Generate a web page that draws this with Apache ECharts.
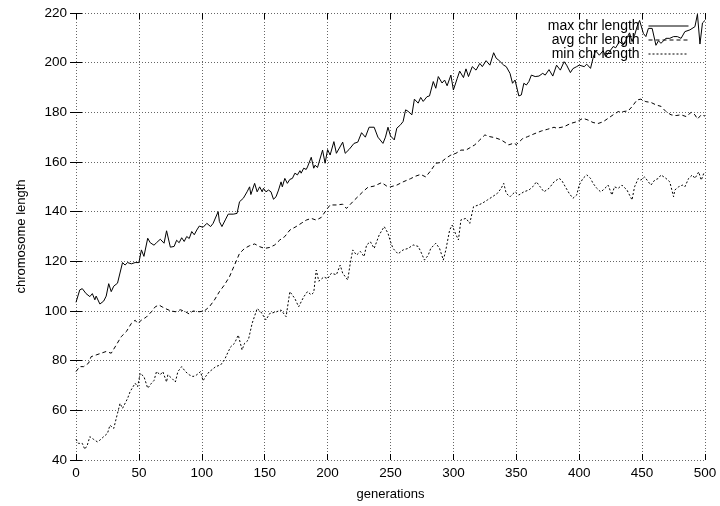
<!DOCTYPE html>
<html>
<head>
<meta charset="utf-8">
<script src="https://cdn.jsdelivr.net/npm/echarts@6/dist/echarts.min.js"></script>
<style>html,body{margin:0;padding:0;background:#fff}#c{width:720px;height:506px}</style>
</head>
<body>
<div id="c"></div>
<script>
var seriesNames = ['max chr length', 'avg chr length', 'min chr length'];
var xTicks = [0, 50, 100, 150, 200, 250, 300, 350, 400, 450, 500];
var yTicks = [40, 60, 80, 100, 120, 140, 160, 180, 200, 220];

var maxGens = [0,3,5,8,11,13,15,16,19,22,24,26,28,30,33,37,39,41,44,47,50,52,54,57,59,62,64,67,70,72,73,75,78,80,82,84,86,88,90,92,94,96,98,101,104,107,109,113,114,116,119,121,125,128,130,133,136,138,139,142,144,146,148,149,151,153,155,157,159,161,163,164,166,168,170,172,174,176,178,179,181,183,184,187,189,190,192,196,198,200,202,205,207,212,214,217,221,224,227,230,233,237,240,244,246,248,250,253,255,258,260,262,264,267,269,272,274,276,279,281,284,286,288,291,293,295,298,300,303,305,308,310,312,315,318,321,323,326,329,332,334,336,340,342,345,347,349,352,354,356,358,360,362,365,368,371,373,376,379,382,385,388,390,393,395,398,400,404,406,409,411,413,416,419,421,424,427,429,432,435,437,440,442,444,446,448,451,453,455,458,461,463,465,469,472,475,478,481,484,488,492,494,496,498,500];
var maxVals = [103.5,108.5,109,107,105.8,107,104.5,106,102.8,104,106,111,107.8,110,111.2,119.5,118.5,119.5,119,119.5,119.5,124.6,122,129.3,127.5,126.5,127.5,128.9,127.3,132.3,131.8,125.7,126,128.5,127.5,129.5,128,130,129.2,132,130.7,132.6,134.2,133.7,135.3,134,135.3,140,136,134,137,139,139,139.3,144,145.4,148,150,146.9,151.4,148,150,148,149.4,148,148.7,148,145,146,148.7,152,150,153.4,151.4,153,153.4,155.5,154.8,156.5,155.5,157.5,157,158,161.9,157.5,158.7,157.8,164.8,159.5,165,162.8,168.2,163.5,168,163.5,165,167.5,168,171.8,170,174,174,170,167.5,170,174,170.5,168.9,173.6,175,176.3,181,180.4,179,185.3,183.7,186,184.4,186.3,186.6,192.4,189.7,194.4,191.8,193,190.7,195,189,193.6,196.6,194,197.5,194.4,198.4,197,199.7,198.4,200.8,199,204,201.8,201,199,198.4,195.7,191.7,193,186.6,187,191.7,191,192.4,195,194.4,194.6,195.7,195,197.2,194.6,199,197,200.4,199,196,197.6,198.4,199,198.4,199.4,197.7,201.8,204.8,203,204.8,202.5,204.4,206.5,206,208.5,207,209,212,208.5,211,214.5,217,211.8,210.5,213.8,213.8,207,208.8,207.8,209.8,209.8,210.5,210.5,209.8,212.5,213.2,214.5,219.5,207.5,216,217];

var avgGens = [0,3,6,10,12,16,20,24,28,32,36,40,44,47,49,52,56,60,63,66,69,71,75,79,83,87,90,93,98,102,106,110,114,118,122,126,130,134,138,142,146,150,154,158,162,166,170,175,179,183,187,191,195,199,202,207,212,215,220,224,228,232,237,243,247,250,255,260,266,270,274,278,282,286,290,294,298,302,306,310,314,317,321,325,329,333,338,344,348,350,355,359,364,370,375,380,382,388,393,398,403,407,411,415,419,423,427,431,435,439,442,446,449,453,457,461,465,469,473,477,481,485,489,492,494,497,500];
var avgVals = [75.6,77.6,77.6,79,81.6,82.3,83,83.7,83,86.3,89.7,91.7,95,96.3,95,96.3,97.6,99.7,101.7,102.4,101.5,101,100.1,99.7,100.5,99.7,98.8,100,99.7,100,101.7,104.4,107.8,110.5,113.8,118.5,123.2,125.2,126.3,127,125.9,125.2,125.6,126.6,128.6,130,132.6,134,135.3,136.6,137.3,136.6,137.7,140.7,142.7,142.7,143,141.3,144,146,148,149.8,150.3,151.7,150.3,150,150.7,152,153.3,154.3,155,154,156.5,159.5,159.8,161.5,162.8,163.5,164.8,164.8,166,166.9,168.9,170.9,170.2,169.8,168.9,166.9,167.6,167,169.4,170.2,171.3,172.5,173.2,174,173.6,174.2,175.5,176.2,177.6,176.9,175.9,175.5,176.2,177.6,179,180.3,180.3,180.6,182.3,185,185.3,184.3,184,183,182.4,180.3,179,178.7,179,178.3,180,179,177.3,179,178.5];

var minGens = [0,2,5,7,9,11,14,17,19,22,25,27,30,33,35,37,41,43,47,49,51,54,57,60,62,64,67,69,72,73,76,79,81,84,87,90,93,96,99,101,103,106,108,111,115,118,121,123,126,129,132,134,137,140,144,147,151,154,159,163,167,170,174,177,181,184,187,189,191,193,194,197,200,203,207,210,212,216,218,220,223,226,229,231,234,237,241,245,248,250,252,256,260,264,268,272,274,277,280,282,286,289,292,294,297,299,301,304,306,310,313,316,320,323,327,331,335,338,340,342,345,349,352,356,360,363,366,369,372,376,380,384,386,389,392,395,398,400,403,406,409,411,414,417,419,423,426,428,431,434,438,442,444,447,449,452,455,457,460,463,465,469,472,475,476,479,482,484,487,490,492,495,497,499,500];
var minVals = [48.3,46.7,46.7,44.3,46,49.4,48.3,47.3,48,49.4,50.7,54,52.7,58.8,62.8,60.8,64.8,67.5,70.9,69.5,74.9,73.6,68.9,70.9,72,75.6,74.3,75.6,71.4,74.3,73,71.4,75.6,77.6,75.6,74.3,73.6,74.3,75.6,71.9,73.6,75.6,76.3,77.6,78.3,80.3,83.6,85.6,87,90.3,84.3,87,88.3,95,101,99.6,96.4,99,99.6,100.4,97.7,107.8,105,101.7,105.7,107.8,106.5,107.5,116.5,112,111.2,113.7,113,115.2,114.6,118.5,115.2,112.5,119.2,124.6,122.5,124,121.9,126.6,127.9,125.2,130.6,134,131.3,127.9,125.2,123,124.6,125.2,126.6,126,124,120.5,122.5,125.2,127.3,125.2,120.5,124.6,132.6,134.6,131.9,128.6,136.7,137.3,135.3,142,142.7,143.4,144.7,146,147.4,149.4,151.4,147.4,146,148,146.7,148,148.7,150,152,150,148,149.4,152,153.4,152.7,150,147.4,145.4,146.7,150.7,153.4,154.8,153.4,151.4,149.4,148,148.7,150.7,146.7,150,149.4,150.7,148.7,144.7,150,153.4,152.7,154,152,150.7,152.7,153.4,154.8,153.4,152,146,148.7,150,150.7,150,153.4,154.8,153.4,156,152.7,155.4,154.8];

function zip(g, v) { return g.map(function (x, i) { return [x, v[i]]; }); }

var FONT = 'Liberation Sans';
var chart = echarts.init(document.getElementById('c'), null, { renderer: 'canvas' });
var gridDot = { color: '#666', width: 1, type: [1, 2] };
chart.setOption({
  animation: false,
  backgroundColor: '#fff',
  textStyle: { fontFamily: FONT, color: '#000' },
  grid: { left: 76, right: 15, top: 13, bottom: 46, containLabel: false },
  legend: {
    orient: 'vertical', align: 'right', right: 26, top: 14,
    itemWidth: 40, itemHeight: 13, itemGap: 0,
    data: seriesNames,
    formatter: function (n) { return n + ' '; },
    itemStyle: { opacity: 0 },
    lineStyle: { width: 1 },
    textStyle: { fontFamily: FONT, fontSize: 14, color: '#000', lineHeight: 14 }
  },
  xAxis: [{
    type: 'value', min: xTicks[0], max: xTicks[xTicks.length - 1], interval: 50, position: 'bottom',
    name: 'generations', nameLocation: 'middle', nameGap: 28,
    nameTextStyle: { fontFamily: FONT, fontSize: 13, color: '#000' },
    axisLine: { show: false },
    axisTick: { show: true, inside: true, length: 6, lineStyle: { color: '#000' } },
    axisLabel: { margin: 6, fontFamily: FONT, fontSize: 13.5, color: '#000' },
    splitLine: { show: true, lineStyle: gridDot }
  }, {
    type: 'value', min: xTicks[0], max: xTicks[xTicks.length - 1], interval: 50, position: 'top',
    axisLine: { show: false },
    axisTick: { show: true, inside: true, length: 6, lineStyle: { color: '#000' } },
    axisLabel: { show: false }, splitLine: { show: false }
  }],
  yAxis: [{
    type: 'value', min: yTicks[0], max: yTicks[yTicks.length - 1], interval: 20, position: 'left',
    name: 'chromosome length', nameLocation: 'middle', nameGap: 48, nameRotate: 90,
    nameTextStyle: { fontFamily: FONT, fontSize: 13, color: '#000' },
    axisLine: { show: false },
    axisTick: { show: true, inside: true, length: 6, lineStyle: { color: '#000' } },
    axisLabel: { margin: 9, fontFamily: FONT, fontSize: 13.5, color: '#000' },
    splitLine: { show: true, lineStyle: gridDot }
  }, {
    type: 'value', min: yTicks[0], max: yTicks[yTicks.length - 1], interval: 20, position: 'right',
    axisLine: { show: false },
    axisTick: { show: true, inside: true, length: 6, lineStyle: { color: '#000' } },
    axisLabel: { show: false }, splitLine: { show: false }
  }],
  series: [{
    name: seriesNames[0], type: 'line', data: zip(maxGens, maxVals), showSymbol: false, symbol: 'none',
    lineStyle: { color: '#000', width: 1, type: 'solid' }, itemStyle: { color: '#000' }
  }, {
    name: seriesNames[1], type: 'line', data: zip(avgGens, avgVals), showSymbol: false, symbol: 'none',
    lineStyle: { color: '#000', width: 1, type: [4, 3] }, itemStyle: { color: '#000' }
  }, {
    name: seriesNames[2], type: 'line', data: zip(minGens, minVals), showSymbol: false, symbol: 'none',
    lineStyle: { color: '#000', width: 1, type: [2, 2] }, itemStyle: { color: '#000' }
  }]
});
</script>
</body>
</html>
